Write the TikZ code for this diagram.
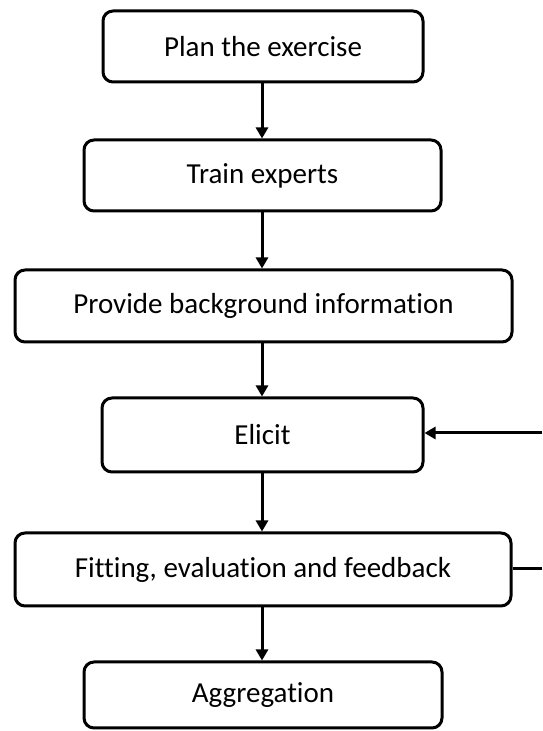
\documentclass[tikz,border=0pt]{standalone}
\usepackage{fontspec}
\setmainfont{Carlito}[RawFeature=-liga]
\usetikzlibrary{arrows.meta}
\begin{document}
\begin{tikzpicture}[x=1pt,y=1pt,
  stepbox/.style={draw=black, line width=3pt, rounded corners=10pt, fill=white,
    inner sep=0pt, font=\fontsize{29}{34}\selectfont, text=black},
  conn/.style={line width=3pt, -{Triangle[width=12pt,length=11pt]}},
  plainline/.style={line width=3pt}]
\useasboundingbox (0,0) rectangle (542,731);
\node[stepbox, minimum width=320pt, minimum height=71pt] (plan) at (263,684.5) {Plan the exercise};
\node[stepbox, minimum width=357pt, minimum height=71pt] (train) at (262.5,555.5) {Train experts};
\node[stepbox, minimum width=497pt, minimum height=72pt] (prov) at (263.5,425) {Provide background information};
\node[stepbox, minimum width=321pt, minimum height=74pt] (elicit) at (262.5,296) {Elicit};
\node[stepbox, minimum width=496pt, minimum height=73pt] (fit) at (263,161.5) {Fitting, evaluation and feedback};
\node[stepbox, minimum width=358pt, minimum height=66pt] (agg) at (263,36) {Aggregation};
\coordinate (inR) at (542,298);
\coordinate (outR) at (542,162);
\draw[conn] (plan.south -| 262,0) -- (train.north -| 262,0);
\draw[conn] (train.south -| 262,0) -- (prov.north -| 262,0);
\draw[conn] (prov.south -| 262,0) -- (elicit.north -| 262,0);
\draw[conn] (elicit.south -| 262,0) -- (fit.north -| 262,0);
\draw[conn] (fit.south -| 262,0) -- (agg.north -| 262,0);
\draw[conn] (inR) -- (elicit.east |- inR);
\draw[plainline] (fit.east |- outR) -- (outR);
\end{tikzpicture}
\end{document}
